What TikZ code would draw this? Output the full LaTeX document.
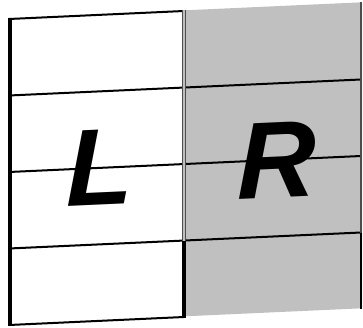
\documentclass[tikz,border=0pt]{standalone}
\usepackage{fontspec}
\newfontfamily\lrfont{Liberation Sans}
\definecolor{panelgray}{RGB}{192,192,192}
\begin{document}
\begin{tikzpicture}[x=1pt,y=-1pt,
  hline/.style={line width=2pt,black},
  letter/.style={font=\lrfont\bfseries\itshape\fontsize{109}{109}\selectfont,inner sep=0pt,yslant=0.0455}]
\useasboundingbox (0,0) rectangle (363,328);
% gray panel
\fill[panelgray] (185,10.3) -- (362,2.3) -- (362,308.3) -- (185,316.3) -- cycle;
% top line of left panel
\draw[hline] (9,19) -- (184,11);
% bottom line of left panel
\draw[hline] (9,325) -- (184,317);
% inner horizontal lines across both panels
\draw[hline] (9,95.5) -- (361,79.5);
\draw[hline] (9,172) -- (361,156);
\draw[hline] (9,248.5) -- (361,232.5);
% left edge
\draw[line width=3.5pt,black] (10,18) -- (10,326);
% middle divider
\draw[line width=3.5pt,black!70] (184,10) -- (184,240.5);
\draw[line width=1.6pt,black!25] (184,10) -- (184,240.5);
\draw[line width=3.2pt,black] (184,240.5) -- (184,318);
% right edge
\draw[line width=1.5pt,black!70] (361,2) -- (361,232.5);
\draw[line width=2.8pt,black] (361,232.5) -- (361,309);
% letters
\node[letter] (L) at (100,167) {L};
\node[letter] (R) at (277,160) {R};
\end{tikzpicture}
\end{document}
